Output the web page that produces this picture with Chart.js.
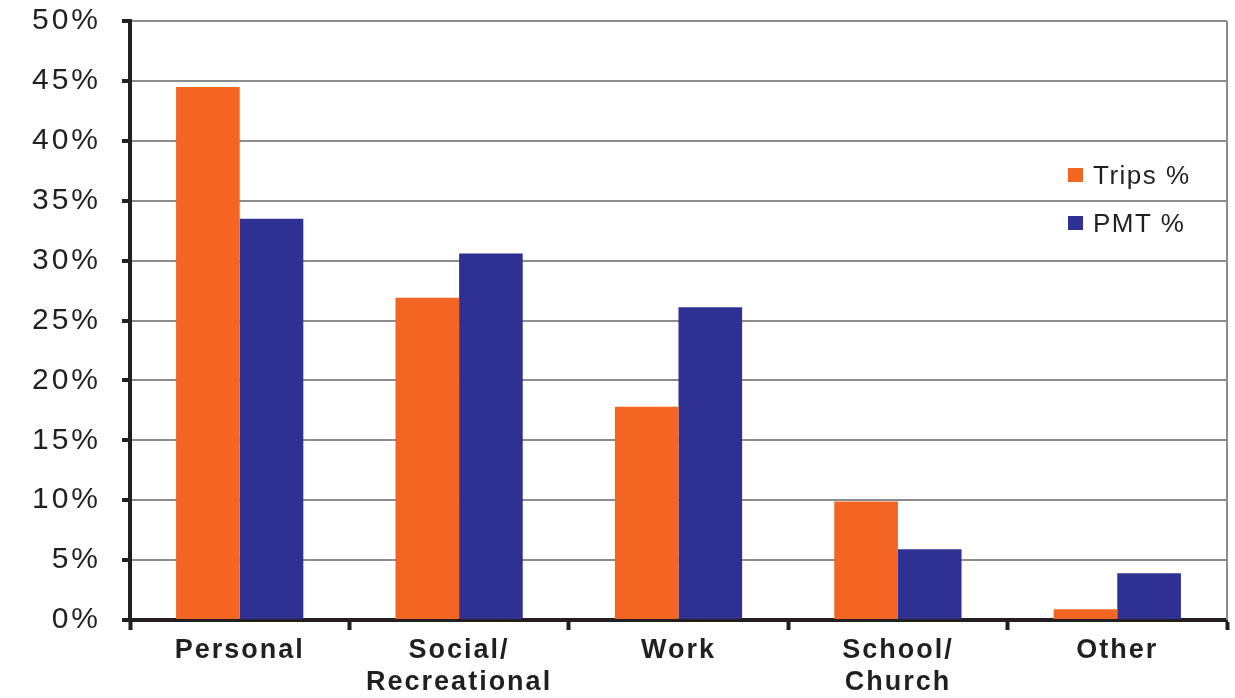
<!DOCTYPE html>
<html>
<head>
<meta charset="utf-8">
<script src="https://cdn.jsdelivr.net/npm/chart.js@4.4.1/dist/chart.umd.min.js"></script>
<style>
  html, body { margin: 0; padding: 0; background: #fff; }
  #wrap { position: relative; width: 1235px; height: 698px; }
  #legend { position: absolute; left: 1068px; top: 160px; font-family: "Liberation Sans", Arial, sans-serif; font-size: 26px; color: #231f20; letter-spacing: 1.5px; }
  #legend div { display: flex; align-items: center; height: 30px; margin-bottom: 18px; }
  #legend span.sw { display: inline-block; width: 15px; height: 14px; margin-right: 10px; }
</style>
</head>
<body>
<div id="wrap">
  <canvas id="chart" width="1235" height="698"></canvas>
  <div id="legend"></div>
</div>
<script>
  // dados
  const categorias = [['Personal'], ['Social/', 'Recreational'], ['Work'], ['School/', 'Church'], ['Other']];
  const tripsPct = [44.5, 26.9, 17.8, 9.9, 0.9];
  const pmtPct = [33.5, 30.6, 26.1, 5.9, 3.9];
  const yTicks = [0, 5, 10, 15, 20, 25, 30, 35, 40, 45, 50];

  const CORES = {
    trips: '#f26522',
    pmt: '#2e3192',
    eixo: '#231f20',
    grade: '#8c8c8c',
  };

  // legenda em HTML
  const legenda = document.getElementById('legend');
  [['Trips %', CORES.trips], ['PMT %', CORES.pmt]].forEach(([nome, cor]) => {
    const item = document.createElement('div');
    item.innerHTML = `<span class="sw" style="background:${cor}"></span>${nome}`;
    legenda.appendChild(item);
  });

  // espaçamento de letras por eixo
  function espacar(scale, espaco) {
    if (scale._espacado) return;
    const original = scale.drawLabels.bind(scale);
    scale.drawLabels = function (area) {
      const ctx = scale.ctx;
      ctx.save();
      ctx.letterSpacing = espaco;
      original(area);
      ctx.restore();
    };
    scale._espacado = true;
  }

  // borda direita cinza + espaçamento de letras
  const extras = {
    id: 'extras',
    afterLayout(chart) {
      espacar(chart.scales.x, '2px');
      espacar(chart.scales.y, '3px');
    },
    afterDatasetsDraw(chart) {
      const { ctx, chartArea } = chart;
      ctx.save();
      ctx.strokeStyle = CORES.grade;
      ctx.lineWidth = 2;
      ctx.beginPath();
      ctx.moveTo(chartArea.right, chartArea.top);
      ctx.lineTo(chartArea.right, chartArea.bottom);
      ctx.stroke();
      ctx.restore();
    }
  };

  new Chart(document.getElementById('chart'), {
    type: 'bar',
    data: {
      labels: categorias,
      datasets: [
        { label: 'Trips %', data: tripsPct, backgroundColor: CORES.trips },
        { label: 'PMT %', data: pmtPct, backgroundColor: CORES.pmt },
      ],
    },
    options: {
      responsive: false,
      animation: false,
      devicePixelRatio: 1,
      layout: { padding: { top: 21, right: 8, left: 0, bottom: 0 } },
      datasets: { bar: { categoryPercentage: 0.58, barPercentage: 1.0 } },
      plugins: { legend: { display: false }, tooltip: { enabled: false } },
      scales: {
        x: {
          border: { color: CORES.eixo, width: 4 },
          grid: { offset: true, drawOnChartArea: false, tickLength: 10, tickColor: CORES.eixo, tickWidth: 4 },
          ticks: {
            color: CORES.eixo,
            padding: 5,
            font: { family: 'Liberation Sans', size: 27, weight: 'bold', lineHeight: 1.185 },
            maxRotation: 0,
            autoSkip: false,
          },
          afterFit(scale) {
            scale.height = 78;
            scale.paddingLeft = 0;
            scale.paddingRight = 0;
          },
        },
        y: {
          min: 0,
          max: 50,
          afterBuildTicks(scale) { scale.ticks = yTicks.map(v => ({ value: v })); },
          border: { color: CORES.eixo, width: 4 },
          grid: { color: CORES.grade, lineWidth: 2, tickLength: 8, tickColor: CORES.eixo, tickWidth: 4 },
          ticks: {
            color: CORES.eixo,
            padding: 21,
            font: { family: 'Liberation Sans', size: 30 },
            callback: v => v + '%',
          },
          afterFit(scale) {
            scale.width = 130;
            scale.paddingTop = 0;
            scale.paddingBottom = 0;
          },
        },
      },
    },
    plugins: [extras],
  });
</script>
</body>
</html>
